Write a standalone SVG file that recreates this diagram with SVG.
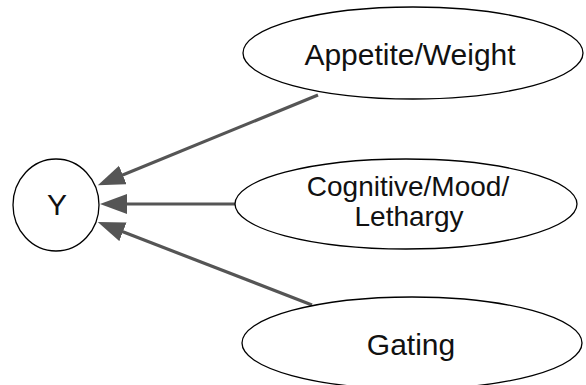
<svg xmlns="http://www.w3.org/2000/svg" width="586" height="385" viewBox="0 0 586 385">
<style>
.node{fill:#fff;stroke:#000;stroke-width:1.3}
.lbl{font-family:"Liberation Sans",Arial,sans-serif;font-size:30px;fill:#111;text-anchor:middle}
.sm{font-size:28px}
.edge{stroke:#555;stroke-width:3.2;fill:none}
</style>
<defs>
<marker id="ah" markerUnits="userSpaceOnUse" markerWidth="30" markerHeight="22" refX="16" refY="10" orient="auto">
<path d="M0,0 L27,10 L0,20 z" fill="#555"/>
</marker>
</defs>
<rect width="586" height="385" fill="#fff"/>
<g id="connectors">
<line class="edge" x1="318" y1="95" x2="108" y2="181" marker-end="url(#ah)"/>
<line class="edge" x1="236" y1="204" x2="111" y2="204" marker-end="url(#ah)"/>
<line class="edge" x1="312" y1="305" x2="108" y2="226" marker-end="url(#ah)"/>
</g>
<g id="Y">
<ellipse class="node" cx="56" cy="205" rx="43" ry="46"/>
<text class="lbl" x="57" y="215">Y</text>
</g>
<g id="appetite">
<ellipse class="node" cx="413" cy="53" rx="170" ry="46"/>
<text class="lbl" x="410" y="65">Appetite/Weight</text>
</g>
<g id="cognitive">
<ellipse class="node" cx="406" cy="204" rx="171" ry="45"/>
<text class="lbl sm" x="408" y="196">Cognitive/Mood/</text>
<text class="lbl sm" x="409" y="226">Lethargy</text>
</g>
<g id="gating">
<ellipse class="node" cx="412" cy="343" rx="170" ry="46"/>
<text class="lbl" x="411" y="355">Gating</text>
</g>
</svg>
